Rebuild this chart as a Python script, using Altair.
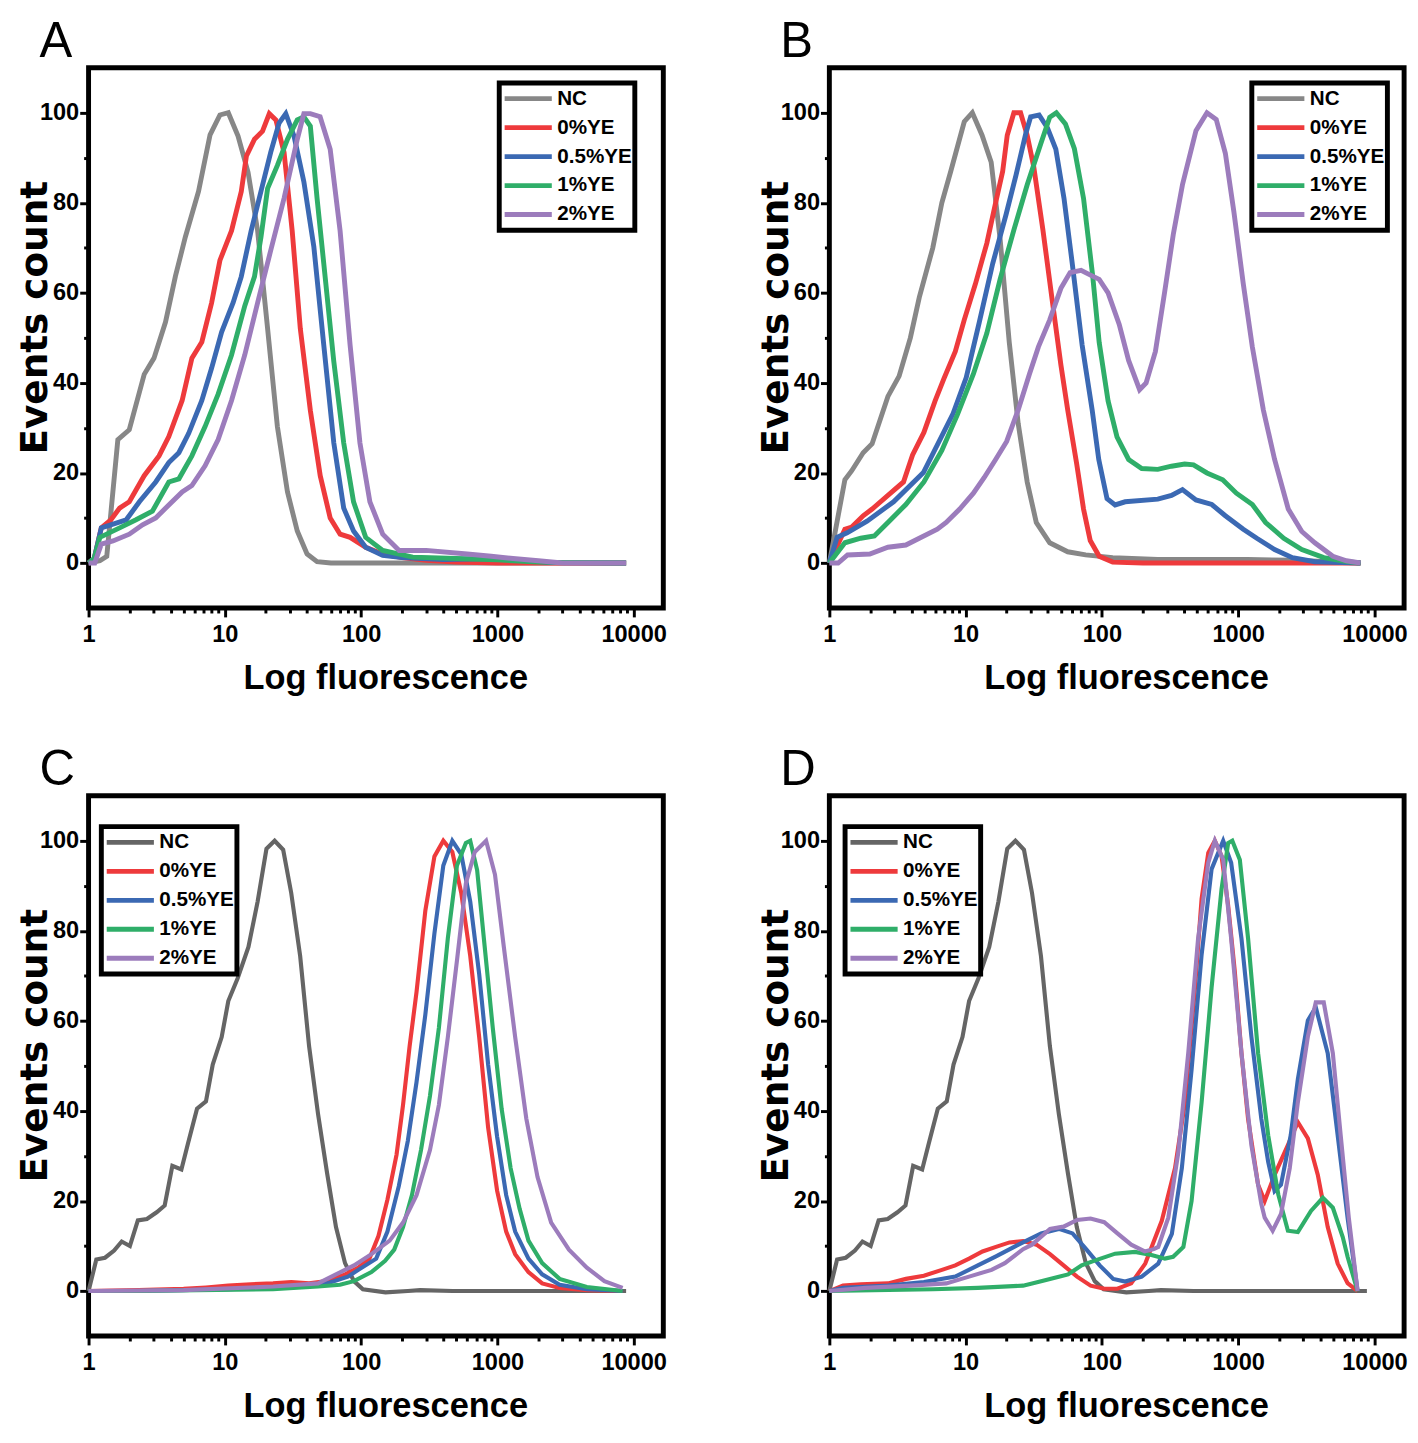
import altair as alt
import pandas as pd

SERIES = ["NC", "0%YE", "0.5%YE", "1%YE", "2%YE"]

# ---------------- Panel A ----------------
A_NC_X = [1, 1.21, 1.36, 1.64, 1.99, 2.56, 3.02, 3.67, 4.34, 5.13, 6.41, 7.79, 9.2, 10.6, 12.5, 14.8, 17.4, 20.6, 24.3, 28.8, 34, 40.1, 47.5, 60, 100, 1000, 8800]
A_NC_Y = [0, 0.5, 1.5, 27.4, 29.6, 41.9, 45.5, 53.5, 63.7, 72.4, 82.5, 95.1, 99.5, 100, 94.8, 86.8, 73.8, 52, 30.3, 15.8, 7.1, 2, 0.3, 0, 0, 0, 0]
A_R_X = [1, 1.1, 1.24, 1.45, 1.69, 1.99, 2.56, 3.29, 3.88, 4.86, 5.73, 6.78, 8.0, 9.2, 11.2, 13.2, 14.4, 16.5, 18.9, 21.2, 23.7, 27.2, 31.2, 35.8, 42.4, 50.1, 59.3, 70.1, 83, 108, 144, 200, 300, 500, 1000, 8800]
A_R_Y = [0, 1, 7.8, 9.5, 12.2, 13.6, 19.4, 23.8, 28.1, 36.1, 45.5, 49.1, 57.8, 67.2, 73.8, 82.5, 90.4, 94.1, 95.9, 99.8, 98.4, 91.2, 73.8, 52, 33.9, 19.4, 10, 6.4, 5.7, 3.5, 2, 1.2, 0.6, 0.2, 0, 0]
A_B_X = [1, 1.1, 1.24, 1.89, 2.36, 3.11, 3.88, 4.6, 5.43, 6.78, 8.0, 9.47, 11.5, 13.2, 15.6, 18.4, 21.7, 25, 28, 32.2, 38, 45, 53.2, 63, 74.5, 88, 108, 144, 200, 400, 1000, 1500, 2500, 8800]
A_B_Y = [0, 1, 7.8, 9.6, 13.6, 18, 22.3, 24.5, 28.8, 36.1, 43.3, 51.3, 57.8, 63.6, 73.8, 82.5, 91.2, 97.7, 99.8, 94.8, 84.7, 70.2, 48.4, 26.7, 12.2, 7.1, 3.5, 1.7, 1.2, 0.8, 1, 0.6, 0.1, 0]
A_G_X = [1, 1.1, 1.21, 1.69, 2.23, 2.94, 3.88, 4.6, 5.73, 7.16, 8.93, 11.2, 14, 16.5, 18.4, 20.6, 24.3, 28.8, 34, 38, 42.4, 47.5, 53.2, 63, 74.5, 88, 108, 144, 239, 500, 1000, 2000, 8800]
A_G_Y = [0, 1, 5.7, 7.8, 9.6, 11.5, 18, 18.7, 23.8, 30.3, 37.5, 46.2, 57.1, 63.6, 72.3, 83.2, 88.3, 94.1, 98.4, 99.1, 97, 81, 66.5, 44.8, 26.7, 13.6, 5.7, 2.8, 1.3, 1, 0.7, 0.2, 0]
A_P_X = [1, 1.11, 1.24, 1.51, 1.99, 2.49, 3.11, 3.88, 4.86, 5.73, 7.16, 8.93, 11.2, 14, 17.4, 21.7, 27.2, 34, 38, 42.4, 50, 59.3, 70.1, 83, 98, 116, 144, 190, 300, 600, 900, 1300, 2000, 3000, 8800]
A_P_Y = [0, 0, 4.2, 4.9, 6.4, 8.5, 10, 12.9, 15.8, 17.2, 21.6, 27.4, 36.1, 46.2, 57.8, 69.4, 81, 94.1, 99.8, 99.8, 99.1, 91.9, 73.8, 48.4, 26.7, 13.6, 6.4, 2.8, 2.8, 2, 1.5, 1, 0.5, 0, 0]

# ---------------- Panel B ----------------
B_NC_X = [1, 1.3, 1.46, 1.77, 2.06, 2.69, 3.25, 3.93, 4.57, 5.74, 6.69, 7.78, 9.77, 11.2, 13.2, 15.4, 17.9, 20.9, 24.3, 28.3, 33, 41.4, 56.1, 76, 120, 257, 1170, 2500, 7900]
B_NC_Y = [0, 18.5, 20.5, 24.5, 26.5, 37, 41.5, 50, 59, 70, 80, 87, 98, 100, 95, 89, 72, 49, 31, 18, 9, 4.5, 2.5, 1.8, 1.2, 0.8, 0.8, 0.6, 0]
B_R_X = [1, 1.3, 1.46, 1.77, 2.06, 2.69, 3.5, 4.08, 4.94, 5.97, 6.94, 8.4, 9.77, 11.8, 14.3, 16.6, 18.7, 20.2, 22.6, 25.3, 28.3, 31.6, 36.9, 42.9, 50, 56.1, 65.3, 73.3, 82.1, 95.5, 120, 200, 7900]
B_R_Y = [0, 7.5, 8, 10.5, 12, 15, 18, 24, 29, 36, 41, 47, 54, 62, 71, 80, 87, 95, 100, 100, 95, 88, 74, 59, 44, 34, 22, 12, 5, 1.5, 0.2, 0, 0]
B_B_X = [1, 1.14, 1.35, 1.89, 2.96, 4.9, 8.09, 10.1, 12.6, 15.8, 19.8, 23.4, 27.7, 30, 34.6, 39.9, 45.9, 52.7, 60.6, 71.6, 84.9, 94.8, 109, 125, 148, 257, 324, 390, 490, 640, 805, 1090, 1370, 1850, 2500, 3650, 7900]
B_B_Y = [0, 5.7, 6.7, 9.3, 13.6, 20.1, 33.2, 41.2, 53.5, 66.5, 77.4, 86.1, 95.5, 99.1, 99.5, 96.6, 91.9, 81, 66.5, 48.4, 33.9, 23, 14.3, 12.9, 13.6, 14.2, 15, 16.3, 14, 13, 10.5, 7.5, 5.5, 3, 1.2, 0.3, 0]
B_G_X = [1, 1.3, 1.7, 2.14, 2.69, 3.64, 4.94, 6.69, 8.72, 11.4, 14.3, 17.9, 22.6, 28.3, 35.5, 41.4, 46.3, 54, 62.8, 73.3, 85.4, 95.5, 111, 129, 157, 196, 257, 324, 405, 470, 590, 770, 970, 1270, 1590, 2160, 2930, 4250, 6220, 7900]
B_G_Y = [0, 4.5, 5.5, 6, 9, 13, 18, 25, 33, 42, 51, 63, 74, 84, 93, 99, 100, 97.5, 92, 81, 64, 49, 36, 28, 23, 21, 20.8, 21.5, 22, 21.8, 20, 18.5, 15.5, 13, 9, 5.5, 3, 1.2, 0.3, 0]
B_P_X = [1, 1.16, 1.36, 1.98, 2.69, 3.64, 4.57, 6.2, 7.2, 9.05, 11.4, 13.7, 16.6, 20, 24.3, 29.4, 34.2, 41.4, 50, 58.4, 70.3, 81.8, 95.5, 111, 134, 157, 189, 211, 247, 288, 334, 390, 490, 590, 690, 805, 930, 1090, 1270, 1530, 1850, 2330, 2930, 3650, 4950, 6220, 7900]
B_P_Y = [0, 0, 1.8, 2, 3.5, 4, 5.5, 7.5, 9, 12, 15.5, 19, 23, 27, 34, 42, 48, 54, 61, 64.5, 65, 64, 63, 60, 53, 45, 38.5, 40, 47, 60, 73, 84, 96, 100, 98.5, 91, 78, 62, 48, 34, 23, 12, 7, 4.5, 1.5, 0.5, 0]

# ---------------- Panel C ----------------
C_NC_X = [1, 1.14, 1.32, 1.54, 1.75, 2.01, 2.3, 2.68, 3.16, 3.62, 4.12, 4.8, 5.37, 6.25, 7.27, 8.15, 9.48, 10.6, 12.4, 14.9, 17.4, 20.2, 23.2, 26.8, 30.7, 35.7, 41.5, 48.3, 56.2, 65.4, 76.2, 88.6, 103, 151, 220, 271, 470, 8800]
C_NC_Y = [0, 7, 7.4, 9, 11, 10, 15.7, 16, 17.5, 19, 27.8, 27, 32.8, 40.5, 42.1, 50.3, 56.4, 64.4, 69.4, 76.4, 86.5, 98.2, 100, 98, 88.4, 74.4, 54.4, 39.3, 26.3, 14.2, 6.2, 2.2, 0.4, -0.3, 0, 0.2, 0, 0]
C_R_X = [1, 2.33, 4.98, 7.27, 10.6, 15.5, 22.6, 30.7, 41.5, 56.2, 76.2, 95.4, 115, 134, 156, 182, 203, 227, 255, 296, 345, 401, 467, 543, 632, 735, 855, 995, 1160, 1350, 1690, 2130, 2860, 4530, 8300]
C_R_Y = [0, 0.2, 0.5, 0.8, 1.2, 1.5, 1.7, 2, 1.7, 2.2, 3.7, 5.2, 7.2, 12.2, 20.3, 30.3, 41.3, 54.4, 66.4, 84.5, 96.5, 100, 97.5, 88.4, 74.4, 56.4, 36.3, 22.3, 13.2, 8.2, 4.2, 1.7, 0.7, 0.2, 0]
C_B_X = [1, 2.33, 10.6, 31, 56.2, 80, 95.4, 129, 156, 189, 220, 255, 296, 345, 401, 467, 543, 632, 735, 855, 995, 1160, 1350, 1690, 2130, 2860, 4530, 8300]
C_B_Y = [0, 0, 0.4, 1, 1.7, 3.2, 4.7, 7.2, 13.2, 23.3, 33.3, 46.4, 61.4, 79.4, 94.5, 100, 97, 86.5, 70.4, 50.3, 34.3, 21.3, 13.2, 7.2, 3.7, 1.4, 0.4, 0]
C_G_X = [1, 2.33, 22.6, 48.3, 70, 88.6, 119, 150, 175, 203, 236, 275, 320, 372, 433, 505, 587, 632, 710, 795, 925, 1075, 1250, 1455, 1690, 2130, 2860, 4530, 8300]
C_G_Y = [0, 0, 0.4, 1, 1.4, 2.2, 4.2, 6.7, 9.2, 14.2, 21.3, 31.3, 43.3, 58.4, 78.4, 94.5, 99.5, 100, 93.5, 78.4, 58.4, 40.4, 27.3, 18.3, 11.2, 6.2, 2.7, 0.9, 0]
C_P_X = [1, 4.98, 22.6, 48.3, 65.4, 88.6, 119, 162, 203, 255, 320, 372, 433, 505, 587, 682, 826, 960, 1115, 1350, 1630, 1970, 2480, 3350, 4530, 6100, 8300]
C_P_Y = [0, 0.2, 1, 1.7, 3.7, 5.7, 8.2, 11.2, 15.2, 21.3, 31.3, 41.3, 56.4, 73.4, 90.5, 97.5, 100, 92.5, 76.4, 56.4, 38.3, 25.3, 15.2, 9.2, 5.2, 2.2, 0.7]

# ---------------- Panel D ----------------
D_NC_X = C_NC_X
D_NC_Y = C_NC_Y
D_R_X = [1, 1.26, 1.7, 2.69, 3.65, 4.94, 6.7, 8.4, 10.6, 13.3, 16.7, 21, 26.4, 33.1, 41.6, 52.3, 65.7, 82.6, 104, 130, 164, 208, 275, 344, 407, 482, 539, 603, 674, 755, 844, 944, 1057, 1182, 1400, 1565, 1850, 2316, 2740, 3245, 3840, 4540, 5370, 6350, 7520]
D_R_Y = [0, 1.2, 1.5, 1.7, 2.7, 3.4, 4.7, 5.7, 7.2, 8.8, 9.8, 10.8, 11.1, 10.3, 8.2, 5.7, 3.2, 1.2, 0.5, 0.5, 1.7, 6.1, 15.6, 27.3, 41.9, 67.4, 87.1, 97.3, 100, 96.6, 85.6, 71, 52.8, 38.2, 23.6, 20, 25.8, 32.4, 37.5, 33.9, 25.8, 14.2, 6.1, 1.75, 0]
D_B_X = [1, 1.26, 2.69, 4.94, 8.4, 12.3, 16.7, 24.4, 35.8, 48.3, 60.9, 76.6, 96.3, 121, 148, 196, 259, 326, 386, 455, 539, 638, 776, 888, 1057, 1250, 1479, 1660, 1850, 2060, 2430, 2740, 3245, 3710, 4540, 5370, 6350, 7520]
D_B_Y = [0, 0.7, 1.2, 2, 3.2, 5.7, 7.7, 10.3, 12.8, 13.8, 12.8, 9.3, 5.7, 2.7, 2.1, 3.2, 6.1, 12.7, 27.3, 49.2, 74.7, 93.7, 100, 95.1, 78.3, 56.5, 38.2, 28.7, 22.2, 23.6, 34.6, 47, 60.1, 63, 52.8, 34.6, 16.3, 0]
D_G_X = [1, 5.75, 12.3, 26.4, 35.8, 48.3, 56.5, 71, 89.5, 125, 175, 231, 290, 333, 396, 455, 539, 638, 755, 844, 905, 1028, 1182, 1400, 1660, 1970, 2316, 2740, 3420, 4180, 4950, 5850, 6350, 7520]
D_G_Y = [0, 0.4, 0.7, 1.2, 2.2, 3.2, 3.7, 5.7, 6.8, 8.3, 8.7, 8, 7.2, 7.6, 9.8, 20, 41.9, 67.4, 89.3, 99.5, 100, 95.8, 78.3, 52.8, 34.6, 21.4, 13.4, 13.1, 17.8, 20.7, 18.5, 12, 7.6, 0]
D_P_X = [1, 1.84, 3.93, 7.2, 10.6, 15.5, 19.4, 26.4, 30.7, 41.6, 52.3, 65.7, 82.6, 104, 130, 164, 206, 240, 259, 307, 364, 430, 508, 603, 674, 776, 888, 1057, 1250, 1479, 1565, 1790, 2060, 2390, 2740, 3245, 3710, 4245, 4950, 5650, 6480, 7520]
D_P_Y = [0, 0.7, 1.2, 1.7, 3.2, 4.7, 6.2, 9.3, 10.3, 13.8, 14.3, 15.8, 16.1, 15.3, 12.8, 10.3, 8.8, 9.3, 9.8, 16.3, 30.9, 52.8, 78.3, 95.1, 100, 95.8, 78.3, 52.8, 32.4, 19.3, 16.3, 13.4, 17.1, 27.3, 41.9, 56.5, 64.1, 64.1, 52.8, 34.6, 16.3, 0]

PANELS = {
    "A": [(A_NC_X, A_NC_Y), (A_R_X, A_R_Y), (A_B_X, A_B_Y), (A_G_X, A_G_Y), (A_P_X, A_P_Y)],
    "B": [(B_NC_X, B_NC_Y), (B_R_X, B_R_Y), (B_B_X, B_B_Y), (B_G_X, B_G_Y), (B_P_X, B_P_Y)],
    "C": [(C_NC_X, C_NC_Y), (C_R_X, C_R_Y), (C_B_X, C_B_Y), (C_G_X, C_G_Y), (C_P_X, C_P_Y)],
    "D": [(D_NC_X, D_NC_Y), (D_R_X, D_R_Y), (D_B_X, D_B_Y), (D_G_X, D_G_Y), (D_P_X, D_P_Y)],
}

X_MAJOR = [1, 10, 100, 1000, 10000]
X_TICKS = [m * 10 ** e for e in range(4) for m in range(1, 10)] + [10000]
Y_TICKS = [0, 10, 20, 30, 40, 50, 60, 70, 80, 90, 100]

COLORS_AB = ["#878787", "#ee3a3c", "#3b69b3", "#2fae69", "#9c7cbc"]
COLORS_CD = ["#656565", "#ee3a3c", "#3b69b3", "#2fae69", "#9c7cbc"]

FONT = "Liberation Sans"
YTITLE_FONT = "DejaVu Sans"

W, H = 585, 550


def make_panel(letter, colors, lx, ly, lw):
    rows = []
    for k, (name, (xs, ys)) in enumerate(zip(SERIES, PANELS[letter])):
        for j, (x, y) in enumerate(zip(xs, ys, strict=True)):
            rows.append({"series": name, "k": k, "j": j, "x": x, "y": y})
    df = pd.DataFrame(rows)

    x_axis = alt.Axis(
        values=X_TICKS,
        format="d",
        labelExpr="indexof([1,10,100,1000,10000], datum.value) >= 0 ? format(datum.value, 'd') : ''",
        tickSize={"condition": {"test": "indexof([1,10,100,1000,10000], datum.value) >= 0", "value": 9}, "value": 5},
        tickWidth=3, tickColor="black",
        labelOverlap=False, labelFlush=False, labelPadding=6,
        labelFont=FONT, labelFontSize=24, labelFontWeight="bold", labelColor="black",
        domain=False, grid=False,
        title="Log fluorescence", titleFont=FONT, titleFontSize=35, titleFontWeight="bold",
        titleColor="black", titlePadding=15, titleX=302, titleAlign="center",
    )
    y_axis = alt.Axis(
        values=Y_TICKS,
        labelExpr="datum.value % 20 === 0 ? datum.label : ''",
        tickSize={"condition": {"test": "datum.value % 20 === 0", "value": 9}, "value": 5},
        tickWidth=3, tickColor="black",
        labelOverlap=False, labelFlush=False, labelPadding=1,
        labelFont=FONT, labelFontSize=24, labelFontWeight="bold", labelColor="black",
        domain=False, grid=False,
        title="Events count", titleFont=YTITLE_FONT, titleFontSize=38, titleFontWeight="bold",
        titleColor="black", titleAngle=270, titleBaseline="alphabetic", titleAlign="center",
        titleX=-43, titleY=254,
    )
    legend = alt.Legend(
        title=None, orient="none", legendX=lx, legendY=ly,
        symbolType="stroke", symbolSize=2304, symbolStrokeWidth=5, symbolOpacity=1,
        clipHeight=26, rowPadding=3.5, labelOffset=3, padding=3,
        labelFont=FONT, labelFontWeight="bold", labelFontSize=21, labelColor="black",
        strokeColor="black", fillColor="white",
    )
    chart = alt.Chart(df).mark_line(strokeWidth=lw, strokeJoin="miter", strokeCap="butt").encode(
        x=alt.X("x:Q", scale=alt.Scale(type="log", domain=[1, 16500], nice=False), axis=x_axis),
        y=alt.Y("y:Q", scale=alt.Scale(domain=[-10, 110], nice=False, zero=False), axis=y_axis),
        color=alt.Color("series:N", scale=alt.Scale(domain=SERIES, range=colors), legend=legend),
        order=alt.Order("j:Q"),
    ).properties(
        width=W, height=H,
        title=alt.TitleParams(letter, anchor="start", frame="group", dx=-50, offset=1,
                              fontSize=50, font=FONT, fontWeight="normal", color="black"),
    )
    return chart


pA = make_panel("A", COLORS_AB, 418, 15.5, 5)
pB = make_panel("B", COLORS_AB, 430, 15.5, 5)
pC = make_panel("C", COLORS_CD, 13, 31.5, 4.2)
pD = make_panel("D", COLORS_CD, 16, 31.5, 4.2)

top = alt.hconcat(pA, pB, spacing=87).resolve_scale(color="independent")
bottom = alt.hconcat(pC, pD, spacing=87).resolve_scale(color="independent")

chart = alt.vconcat(top, bottom, spacing=45).resolve_scale(color="independent").properties(
    padding={"left": 6, "top": -6, "right": 0, "bottom": 0}, background="white"
).configure_view(stroke="black", strokeWidth=5).configure_legend(strokeWidth=5)

chart.save("out.html", embed_options={"renderer": "svg", "actions": False})
